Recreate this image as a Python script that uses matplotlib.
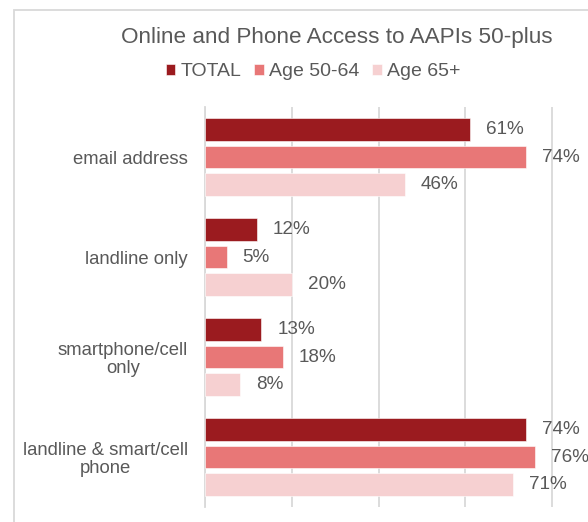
import matplotlib
matplotlib.use("Agg")
import matplotlib.pyplot as plt
from matplotlib.patches import Rectangle
import numpy as np

plt.rcParams['font.family'] = ['Liberation Sans', 'DejaVu Sans']

categories = ["email address", "landline only", "smartphone/cell\nonly", "landline & smart/cell\nphone"]
series_names = ["TOTAL", "Age 50-64", "Age 65+"]
total = [61, 12, 13, 74]
age_50_64 = [74, 5, 18, 76]
age_65_plus = [46, 20, 8, 71]
values = [total, age_50_64, age_65_plus]
colors = ["#9B1B1F", "#E87777", "#F6D0D1"]
text_color = "#595959"
grid_color = "#D9D9D9"

W, H = 588, 522
fig = plt.figure(figsize=(W / 100, H / 100), dpi=100)

# chart frame
fig.patches.append(Rectangle((14 / W, -0.1), 1.2, 1.1 - 10 / H, transform=fig.transFigure,
                             fill=False, edgecolor=grid_color, linewidth=1.3, zorder=0))

ax_left, ax_right = 205, 639
ax_top, ax_bottom = 107, 507
ax = fig.add_axes([ax_left / W, (H - ax_bottom) / H, (ax_right - ax_left) / W, (ax_bottom - ax_top) / H])

y = np.arange(len(categories))
pitch = 0.273
bh = 0.225
for k, (vals, col) in enumerate(zip(values, colors)):
    pos = y + (k - 1) * pitch
    ax.barh(pos, vals, height=bh, color=col, edgecolor="white", linewidth=0.4, label=series_names[k], zorder=3)
    for p, v in zip(pos, vals):
        ax.annotate(f"{v}%", (v, p), xytext=(16, 0), textcoords="offset pixels",
                    ha="left", va="center", fontsize=13.6, color=text_color, zorder=4)

ax.set_xlim(0, 100)
ax.set_ylim(len(categories) - 0.5, -0.5)
ax.set_xticks([0, 20, 40, 60, 80, 100])
ax.xaxis.grid(True, color=grid_color, linewidth=1.3, zorder=0)
ax.tick_params(axis="x", bottom=False, labelbottom=False)
ax.tick_params(axis="y", left=False, pad=8.8)
ax.set_yticks(y)
ax.set_yticklabels(categories, fontsize=13.3, color=text_color, ha="right", multialignment="center",
                   linespacing=1.1)
for s in ["top", "right", "bottom"]:
    ax.spines[s].set_visible(False)
ax.spines["left"].set_color(grid_color)
ax.spines["left"].set_linewidth(1.3)
ax.set_facecolor("none")

fig.text(337 / W, 1 - 37 / H, "Online and Phone Access to AAPIs 50-plus", ha="center", va="center",
         fontsize=16.2, color=text_color)
handles, labels = ax.get_legend_handles_labels()
fig.legend(handles, labels, loc="center", bbox_to_anchor=(313 / W, 1 - 72 / H), ncol=3, frameon=False,
           fontsize=14, labelcolor=text_color, handlelength=0.5, handleheight=0.5, handletextpad=0.25,
           columnspacing=0.67, borderaxespad=0)

fig.savefig("out.png", dpi=100)
